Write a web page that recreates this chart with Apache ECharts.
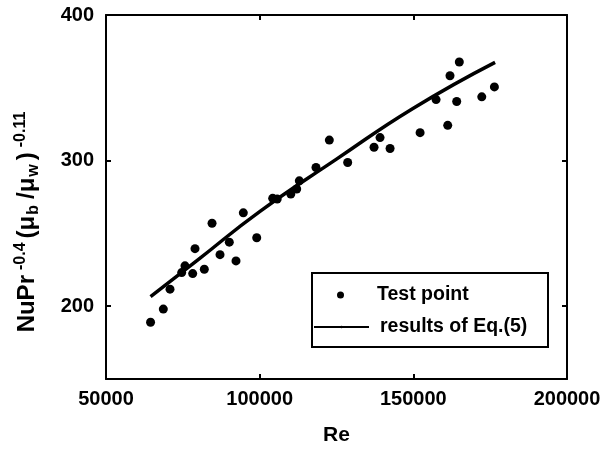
<!DOCTYPE html>
<html>
<head>
<meta charset="utf-8">
<script src="https://cdn.jsdelivr.net/npm/echarts@6/dist/echarts.min.js"></script>
<style>
  html, body { margin: 0; padding: 0; background: #fff; }
  #chart { width: 604px; height: 451px; }
</style>
</head>
<body>
<div id="chart"></div>
<script>
// test points
var testRe = [64500, 68650, 70830, 74630, 75700, 78210, 78960, 81990, 84500, 87100,
    90120, 92300, 94680, 99040, 104240, 105700, 110130, 112050, 112900, 118330,
    122670, 128640, 137210, 139170, 142430, 152200, 157400, 161190, 161930, 164110,
    164960, 172270, 176380];
var testNu = [189.0, 198.0, 211.7, 223.1, 227.7, 222.4, 239.5, 225.4, 257.0, 235.4,
    244.0, 231.1, 264.1, 247.0, 274.1, 273.6, 277.0, 280.5, 286.1, 295.3,
    314.1, 298.7, 309.2, 315.8, 308.3, 319.2, 341.9, 324.2, 358.3, 340.6,
    367.7, 343.8, 350.6];

// Eq.(5) curve, read at a few points along the drawn line
var fitRe = [64500, 80000, 100000, 125000, 150000, 176600];
var fitNu = [206.5, 232, 265, 301, 336, 367.5];

var xTicks = [50000, 100000, 150000, 200000];
var yTicks = [200, 300, 400];

var font = 'Liberation Sans, Arial, sans-serif';

var scatterData = [];
for (var i = 0; i < testRe.length; i++) {
    scatterData.push([testRe[i], testNu[i]]);
}
var lineData = [];
for (var i = 0; i < fitRe.length; i++) {
    lineData.push([fitRe[i], fitNu[i]]);
}

var chart = echarts.init(document.getElementById('chart'));

var axisLine = { show: true, onZero: false, lineStyle: { color: '#000', width: 2 } };
var plainNumber = function (v) {
    return String(v);
};

var option = {
    backgroundColor: '#fff',
    animation: false,
    grid: { left: 106, right: 37, top: 15, bottom: 70 },
    xAxis: [{
            type: 'value',
            min: 50000,
            max: 200000,
            position: 'bottom',
            axisLine: axisLine,
            axisTick: { show: true, inside: true, length: 5, customValues: xTicks,
                lineStyle: { color: '#000', width: 2 } },
            axisLabel: { customValues: xTicks, margin: 10, color: '#000', formatter: plainNumber,
                fontFamily: font, fontSize: 20, fontWeight: 'bold' },
            splitLine: { show: false },
            name: 'Re',
            nameLocation: 'middle',
            nameGap: 46,
            nameTextStyle: { color: '#000', fontFamily: font, fontSize: 21, fontWeight: 'bold' }
        }, {
            type: 'value',
            min: 50000,
            max: 200000,
            position: 'top',
            axisLine: axisLine,
            axisTick: { show: true, inside: true, length: 5, customValues: xTicks,
                lineStyle: { color: '#000', width: 2 } },
            axisLabel: { show: false },
            splitLine: { show: false }
        }
    ],
    yAxis: [{
            type: 'value',
            min: 150,
            max: 400,
            position: 'left',
            axisLine: axisLine,
            axisTick: { show: true, inside: true, length: 5, customValues: yTicks,
                lineStyle: { color: '#000', width: 2 } },
            axisLabel: { customValues: yTicks, margin: 12, color: '#000', formatter: plainNumber,
                fontFamily: font, fontSize: 20, fontWeight: 'bold' },
            splitLine: { show: false }
        }, {
            type: 'value',
            min: 150,
            max: 400,
            position: 'right',
            axisLine: axisLine,
            axisTick: { show: true, inside: true, length: 5, customValues: yTicks,
                lineStyle: { color: '#000', width: 2 } },
            axisLabel: { show: false },
            splitLine: { show: false }
        }
    ],
    legend: [{
            data: [{ name: 'Test point', icon: 'circle' }],
            left: 337,
            top: 285,
            padding: 0,
            itemWidth: 7,
            itemHeight: 7,
            itemGap: 0,
            itemStyle: { opacity: 1 },
            textStyle: { color: '#000', fontFamily: font, fontSize: 19.5, fontWeight: 'bold',
                padding: [0, 0, 0, 28], lineHeight: 20 }
        }, {
            data: ['results of Eq.(5)'],
            left: 313,
            top: 317,
            padding: 0,
            itemWidth: 55,
            itemHeight: 3,
            itemGap: 0,
            textStyle: { color: '#000', fontFamily: font, fontSize: 19.5, fontWeight: 'bold',
                padding: [0, 0, 0, 6], lineHeight: 20 }
        }
    ],
    graphic: [{
            type: 'rect',
            shape: { x: 312, y: 273, width: 236, height: 74 },
            style: { fill: 'none', stroke: '#000', lineWidth: 2 },
            z: 100
        }, {
            type: 'text',
            x: 27,
            y: 222,
            rotation: Math.PI / 2,
            style: {
                text: '{m|NuPr}{sp|-0.4}{po|(μ}{sb|b}{sl|/μ}{sw|w}{pc|)}{sp2|-0.11}',
                align: 'center',
                verticalAlign: 'middle',
                fill: '#000',
                rich: {
                    m: { fontFamily: font, fontSize: 24, fontWeight: 'bold', lineHeight: 32, verticalAlign: 'middle' },
                    po: { fontFamily: font, fontSize: 24, fontWeight: 'bold', lineHeight: 32, verticalAlign: 'middle', padding: [0, 0, 0, 4] },
                    sl: { fontFamily: font, fontSize: 24, fontWeight: 'bold', lineHeight: 32, verticalAlign: 'middle', padding: [0, 0, 0, 2] },
                    pc: { fontFamily: font, fontSize: 24, fontWeight: 'bold', lineHeight: 32, verticalAlign: 'middle', padding: [0, 2, 0, 0] },
                    sp: { fontFamily: font, fontSize: 16, fontWeight: 'bold', lineHeight: 32, verticalAlign: 'top', padding: [2, 0, 0, 5] },
                    sp2: { fontFamily: font, fontSize: 16, fontWeight: 'bold', lineHeight: 32, verticalAlign: 'top', padding: [2, 0, 0, 3] },
                    sb: { fontFamily: font, fontSize: 16, fontWeight: 'bold', lineHeight: 32, verticalAlign: 'bottom', padding: [0, 4, 1, 1] },
                    sw: { fontFamily: font, fontSize: 16, fontWeight: 'bold', lineHeight: 32, verticalAlign: 'bottom', padding: [0, 4, 1, 1] }
                }
            }
        }
    ],
    series: [{
            name: 'Test point',
            type: 'scatter',
            data: scatterData,
            symbol: 'circle',
            symbolSize: 9,
            itemStyle: { color: '#000', opacity: 1 },
            z: 3
        }, {
            name: 'results of Eq.(5)',
            type: 'line',
            data: lineData,
            smooth: true,
            symbol: 'none',
            lineStyle: { color: '#000', width: 3.5 },
            itemStyle: { color: '#000' },
            z: 2
        }
    ]
};

chart.setOption(option);
</script>
</body>
</html>
